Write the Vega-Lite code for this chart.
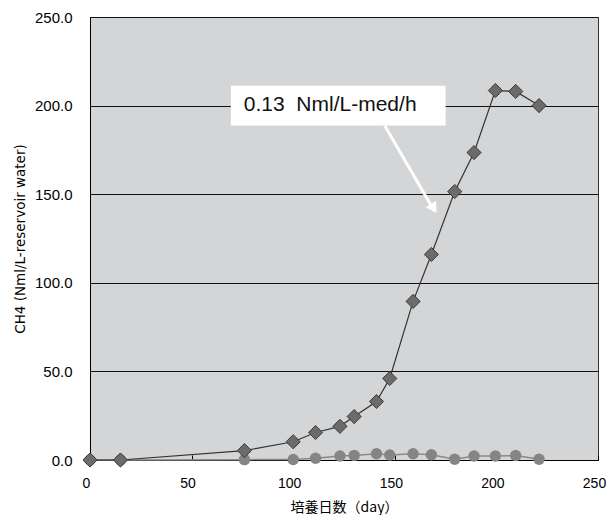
{
  "$schema": "https://vega.github.io/schema/vega-lite/v6.json",
  "width": 508,
  "height": 443,
  "autosize": "none",
  "padding": {"left": 90, "top": 17, "right": 10, "bottom": 55},
  "background": "white",
  "config": {
    "view": {"fill": "#d4d5d7", "stroke": "#333333", "strokeWidth": 1},
    "font": "Liberation Sans"
  },
  "datasets": {
    "ch4": [
      {"day": 0, "value": 0, "series": "A"},
      {"day": 15, "value": 0, "series": "A"},
      {"day": 76, "value": 5.3, "series": "A"},
      {"day": 100, "value": 10.3, "series": "A"},
      {"day": 111, "value": 15.5, "series": "A"},
      {"day": 123, "value": 19, "series": "A"},
      {"day": 130, "value": 24.5, "series": "A"},
      {"day": 141, "value": 33, "series": "A"},
      {"day": 147.5, "value": 46, "series": "A"},
      {"day": 159, "value": 89.5, "series": "A"},
      {"day": 168, "value": 116, "series": "A"},
      {"day": 179.5, "value": 151.5, "series": "A"},
      {"day": 189, "value": 173.5, "series": "A"},
      {"day": 199.5, "value": 208.5, "series": "A"},
      {"day": 209.5, "value": 208, "series": "A"},
      {"day": 221, "value": 200, "series": "A"},
      {"day": 0, "value": 0, "series": "B"},
      {"day": 15, "value": 0, "series": "B"},
      {"day": 76, "value": 0.2, "series": "B"},
      {"day": 100, "value": 0.3, "series": "B"},
      {"day": 111, "value": 1, "series": "B"},
      {"day": 123, "value": 2.3, "series": "B"},
      {"day": 130, "value": 2.6, "series": "B"},
      {"day": 141, "value": 3.5, "series": "B"},
      {"day": 147.5, "value": 2.8, "series": "B"},
      {"day": 159, "value": 3.5, "series": "B"},
      {"day": 168, "value": 3, "series": "B"},
      {"day": 179.5, "value": 0.4, "series": "B"},
      {"day": 189, "value": 2.3, "series": "B"},
      {"day": 199.5, "value": 2.3, "series": "B"},
      {"day": 209.5, "value": 2.5, "series": "B"},
      {"day": 221, "value": 0.4, "series": "B"}
    ],
    "note": [
      {"x1": 69.3, "x2": 175, "y1": 188.8, "y2": 211.2, "tx": 75.7, "ty": 200.2, "label": "0.13\u00a0 Nml/L-med/h"}
    ],
    "arrow": [
      {"x1": 145, "y1": 188.8, "x2": 167.8, "y2": 143.8, "hx": 169.1, "hy": 141.9}
    ]
  },
  "layer": [
    {
      "data": {"name": "ch4"},
      "transform": [{"filter": "datum.series === 'B'"}],
      "mark": {"type": "line", "color": "#8a8a8a", "strokeWidth": 1.5},
      "encoding": {
        "x": {
          "field": "day", "type": "quantitative",
          "scale": {"domain": [0, 250], "nice": false},
          "axis": {
            "title": "培養日数（day）",
            "titleFont": "Noto Sans CJK JP", "titleFontSize": 14, "titleFontWeight": "normal",
            "titleColor": "#000", "titlePadding": 10,
            "values": [0, 50, 100, 150, 200, 250],
            "labelFontSize": 14, "labelColor": "#000", "labelPadding": 21, "labelFlush": false, "labelOffset": -4,
            "grid": false, "tickSize": -5, "tickColor": "#000", "domainColor": "#000"
          }
        },
        "y": {
          "field": "value", "type": "quantitative",
          "scale": {"domain": [0, 250], "nice": false},
          "axis": {
            "title": "CH4 (Nml/L-reservoir water)",
            "titleFont": "DejaVu Sans",
            "titleFontSize": 13.5, "titleFontWeight": "normal", "titleColor": "#000", "titlePadding": 7,
            "values": [0, 50, 100, 150, 200, 250], "format": ".1f",
            "labelFontSize": 15, "labelColor": "#000", "labelPadding": 18,
            "grid": true, "gridColor": "#111", "gridOpacity": 1, "gridWidth": 1.2,
            "ticks": false, "domainColor": "#000"
          }
        }
      }
    },
    {
      "data": {"name": "ch4"},
      "transform": [{"filter": "datum.series === 'B'"}],
      "mark": {"type": "point", "shape": "circle", "filled": true, "size": 130, "color": "#858585", "opacity": 1},
      "encoding": {
        "x": {"field": "day", "type": "quantitative"},
        "y": {"field": "value", "type": "quantitative"}
      }
    },
    {
      "data": {"name": "note"},
      "mark": {"type": "rect", "color": "white"},
      "encoding": {
        "x": {"field": "x1", "type": "quantitative"},
        "x2": {"field": "x2"},
        "y": {"field": "y1", "type": "quantitative"},
        "y2": {"field": "y2"}
      }
    },
    {
      "data": {"name": "note"},
      "mark": {"type": "text", "align": "left", "baseline": "middle", "fontSize": 21, "color": "#111", "font": "Liberation Sans"},
      "encoding": {
        "x": {"field": "tx", "type": "quantitative"},
        "y": {"field": "ty", "type": "quantitative"},
        "text": {"field": "label"}
      }
    },
    {
      "data": {"name": "arrow"},
      "mark": {"type": "rule", "color": "white", "strokeWidth": 3},
      "encoding": {
        "x": {"field": "x1", "type": "quantitative"},
        "y": {"field": "y1", "type": "quantitative"},
        "x2": {"field": "x2"},
        "y2": {"field": "y2"}
      }
    },
    {
      "data": {"name": "arrow"},
      "mark": {"type": "point", "shape": "triangle-up", "filled": true, "size": 150, "color": "white", "opacity": 1, "angle": 149},
      "encoding": {
        "x": {"field": "hx", "type": "quantitative"},
        "y": {"field": "hy", "type": "quantitative"}
      }
    },
    {
      "data": {"name": "ch4"},
      "transform": [{"filter": "datum.series === 'A'"}],
      "mark": {"type": "line", "color": "#333333", "strokeWidth": 1.2},
      "encoding": {
        "x": {"field": "day", "type": "quantitative"},
        "y": {"field": "value", "type": "quantitative"}
      }
    },
    {
      "data": {"name": "ch4"},
      "transform": [{"filter": "datum.series === 'A'"}],
      "mark": {"type": "point", "shape": "diamond", "filled": true, "size": 200, "fill": "#6b6b6b", "stroke": "#3a3a3a", "strokeWidth": 1, "opacity": 1},
      "encoding": {
        "x": {"field": "day", "type": "quantitative"},
        "y": {"field": "value", "type": "quantitative"}
      }
    }
  ]
}
